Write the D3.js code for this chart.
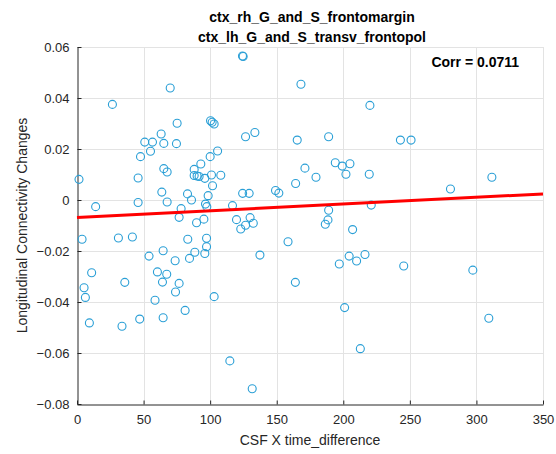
<!DOCTYPE html>
<html>
<head>
<meta charset="utf-8">
<script src="https://cdn.jsdelivr.net/npm/d3@7"></script>
<style>
  body { margin: 0; background: #fff; }
  text { font-family: "Liberation Sans", Arial, sans-serif; }
</style>
</head>
<body>
<svg width="556" height="454"></svg>
<script>
// DATA
const titleLines = ["ctx_rh_G_and_S_frontomargin", "ctx_lh_G_and_S_transv_frontopol"];
const xLabel = "CSF X time_difference";
const yLabel = "Longitudinal Connectivity Changes";
const corrText = "Corr = 0.0711";

const xTicks = [0, 50, 100, 150, 200, 250, 300, 350];
const yTicks = [-0.08, -0.06, -0.04, -0.02, 0, 0.02, 0.04, 0.06];

const xs = [
  1.5, 14, 26.6, 70, 124.3, 124.8, 168.2, 75.2, 100.3, 101.5,
  103, 63.2, 50.9, 56.7, 65.2, 74.7, 55.2, 47.7, 105.6, 100,
  126.6, 133.6, 165.4, 171.2, 164.2, 45.9, 45.9, 65.2, 67.7, 63.7,
  67.7, 76.7, 78.2, 83, 86, 88, 88, 90.2, 91.7, 93,
  96, 101, 108, 101.8, 98.5, 96.5, 97.5, 89.8, 95.3, 116.8,
  119.8, 123, 126.6, 130, 132.4, 124.4, 129.3, 149.1, 151.6, 220,
  189, 242.9, 250.9, 194, 199.2, 205, 202, 179.5, 219.5, 280.5,
  311.6, 221, 189, 188.5, 186.5, 207, 204.4, 197, 210, 216.3,
  245.4, 297.3, 164, 201, 309.3, 212.8, 3.8, 31.1, 41.6, 83.2,
  97.3, 97.3, 96, 88.5, 64.7, 54.1, 84.5, 73.7, 137.4, 158.5,
  60.4, 67.4, 11, 64.2, 76.7, 35.9, 5.3, 6.3, 74, 58.6,
  103, 81.2, 47.1, 64.7, 9.3, 33.8, 114.8, 131.6
];
const ys = [
  0.0081, -0.0026, 0.0375, 0.0439, 0.0565, 0.0563, 0.0454, 0.0301, 0.0311, 0.0305,
  0.0298, 0.0259, 0.0227, 0.0227, 0.0222, 0.0221, 0.0191, 0.0170, 0.0192, 0.0170,
  0.0248, 0.0265, 0.0235, 0.0125, 0.0065, 0.0086, -0.0010, 0.0123, 0.0110, 0.0031,
  -0.0008, -0.0068, -0.0034, 0.0024, 0.0000, 0.0120, 0.0096, 0.0094, 0.0092, 0.0141,
  0.0085, 0.0098, 0.0097, 0.0056, 0.0017, -0.0016, -0.0026, -0.0089, -0.0075, -0.0022,
  -0.0077, -0.0114, -0.0099, -0.0069, -0.0091, 0.0026, 0.0026, 0.0037, 0.0027, 0.0371,
  0.0248, 0.0235, 0.0235, 0.0146, 0.0133, 0.0142, 0.0101, 0.0089, 0.0101, 0.0043,
  0.0089, -0.0020, -0.0040, -0.0078, -0.0095, -0.0116, -0.0220, -0.0251, -0.0239, -0.0214,
  -0.0259, -0.0275, -0.0323, -0.0422, -0.0464, -0.0583, -0.0154, -0.0149, -0.0145, -0.0154,
  -0.0150, -0.0183, -0.0210, -0.0205, -0.0199, -0.0220, -0.0229, -0.0238, -0.0216, -0.0164,
  -0.0282, -0.0291, -0.0285, -0.0322, -0.0327, -0.0323, -0.0344, -0.0382, -0.0361, -0.0393,
  -0.0379, -0.0433, -0.0467, -0.0462, -0.0482, -0.0495, -0.0631, -0.0740
];

// fitted line end points
const fitX = [0, 350];
const fitY = [-0.0069, 0.0024];

const svg = d3.select("svg");
const margin = { top: 47, left: 77, right: 13, bottom: 50 };
const width = +svg.attr("width");
const height = +svg.attr("height");

const x = d3.scaleLinear().domain([0, 350]).range([margin.left, width - margin.right]);
const y = d3.scaleLinear().domain([-0.08, 0.06]).range([height - margin.bottom, margin.top]);

// grid
const grid = svg.append("g").attr("stroke", "#e3e3e3").attr("stroke-width", 1);
grid.selectAll(".gx").data(xTicks.slice(1)).enter().append("line")
  .attr("x1", d => Math.round(x(d)) + 0.5).attr("x2", d => Math.round(x(d)) + 0.5)
  .attr("y1", y(-0.08)).attr("y2", y(0.06));
grid.selectAll(".gy").data(yTicks.slice(1)).enter().append("line")
  .attr("y1", d => Math.round(y(d)) + 0.5).attr("y2", d => Math.round(y(d)) + 0.5)
  .attr("x1", x(0)).attr("x2", x(350));

// axes (inward ticks, MATLAB-like)
const fmtY = d => d === 0 ? "0" : d3.format(".2f")(d).replace("-", "-");
const xAxis = svg.append("g")
  .attr("transform", `translate(0,${Math.round(y(-0.08)) + 0.5})`)
  .call(d3.axisBottom(x).tickValues(xTicks).tickSize(-4).tickPadding(10).tickSizeOuter(0));
const yAxis = svg.append("g")
  .attr("transform", `translate(${Math.round(x(0)) + 0.5},0)`)
  .call(d3.axisLeft(y).tickValues(yTicks).tickFormat(fmtY).tickSize(-4).tickPadding(8).tickSizeOuter(0));

[xAxis, yAxis].forEach(a => {
  a.select(".domain").attr("stroke", "#262626");
  a.selectAll(".tick line").attr("stroke", "#262626");
  a.selectAll(".tick text").attr("fill", "#262626").style("font-size", "13px")
    .style("font-family", "'Liberation Sans', Arial, sans-serif");
});

// points
svg.append("g").selectAll("circle")
  .data(xs.map((v, i) => [v, ys[i]]))
  .enter().append("circle")
  .attr("cx", d => x(d[0]))
  .attr("cy", d => y(d[1]))
  .attr("r", 4)
  .attr("fill", "none")
  .attr("stroke", "#2a9fd6")
  .attr("stroke-width", 1.1);

// regression line
svg.append("line")
  .attr("x1", x(fitX[0])).attr("y1", y(fitY[0]))
  .attr("x2", x(fitX[1])).attr("y2", y(fitY[1]))
  .attr("stroke", "#ff0000")
  .attr("stroke-width", 3);

// title
svg.selectAll(".title").data(titleLines).enter().append("text")
  .attr("x", 312)
  .attr("y", (d, i) => 22 + i * 20)
  .attr("text-anchor", "middle")
  .style("font-size", "14px")
  .style("font-weight", "bold")
  .attr("fill", "#000")
  .text(d => d);

// correlation
svg.append("text")
  .attr("x", 519).attr("y", 67)
  .attr("text-anchor", "end")
  .style("font-size", "14px")
  .style("font-weight", "bold")
  .attr("fill", "#000")
  .text(corrText);

// axis labels
svg.append("text")
  .attr("x", x(175)).attr("y", 445)
  .attr("text-anchor", "middle")
  .style("font-size", "14px")
  .attr("fill", "#262626")
  .text(xLabel);

svg.append("text")
  .attr("transform", `translate(27,${y(-0.01)}) rotate(-90)`)
  .attr("text-anchor", "middle")
  .style("font-size", "14px")
  .attr("fill", "#262626")
  .text(yLabel);
</script>
</body>
</html>
